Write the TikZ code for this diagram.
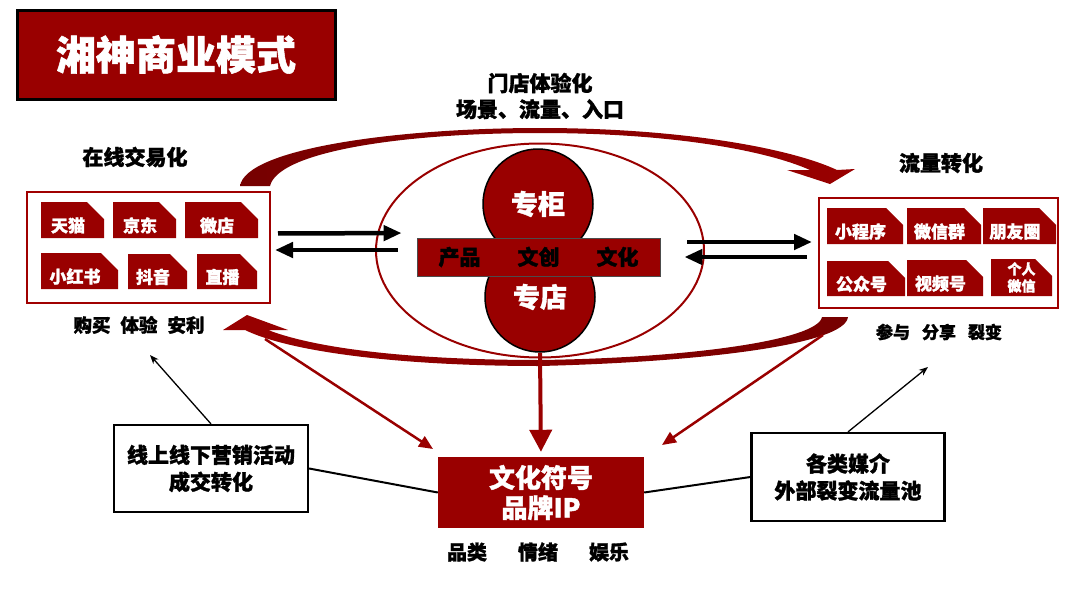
\documentclass[tikz,border=0pt]{standalone}
\usepackage{fontspec}
\setmainfont{Noto Sans CJK SC}[BoldFeatures={FakeBold=1.4}]
\usepackage{tikz}
\usetikzlibrary{arrows.meta}
\usetikzlibrary{shapes.geometric}

\definecolor{ipred}{HTML}{990000}
\definecolor{boxred}{HTML}{A00000}
\definecolor{arcdark}{HTML}{760000}

\begin{document}
\begin{tikzpicture}[x=1pt,y=-1pt,
		lbl/.style={font=\fontsize{21}{26}\selectfont\bfseries,align=center,inner sep=0pt},
		sub/.style={font=\fontsize{18}{22}\selectfont\bfseries,inner sep=0pt},
		redbox/.style={draw=boxred,line width=2pt},
		tagbox/.style={fill=white,inner sep=0pt,text=white,font=\fontsize{17}{20}\selectfont\bfseries,
			path picture={\fill[ipred] (path picture bounding box.north west)
				-- ([xshift=-17pt]path picture bounding box.north east)
				-- ([yshift=-17pt]path picture bounding box.north east)
				-- (path picture bounding box.south east)
				-- (path picture bounding box.south west) -- cycle;}},
		tag/.style={tagbox,text height=26pt,text depth=2pt,execute at end node={\hspace{9pt}}},
		ball/.style={circle,fill=ipred,draw=black,line width=1.5pt,minimum size=110pt,inner sep=0pt,
			text=white,font=\fontsize{27}{30}\selectfont\bfseries},
		wbox/.style={draw=black,line width=2.2pt,fill=white,align=center,
			font=\fontsize{21}{27}\selectfont\bfseries},
		dbl/.style={line width=4.5pt,-{Triangle[length=18pt,width=15pt]}},
		diag/.style={draw=ipred,line width=2.5pt,-{Triangle[length=14pt,width=12pt]}},
		note/.style={line width=1.3pt,-{Stealth[length=9pt,width=7pt]}}]

		\useasboundingbox (0,0) rectangle (1080,608);

		% title
		\node [fill=ipred,draw=black,line width=3pt,minimum width=318pt,minimum height=89pt,
			text=white,font=\fontsize{40}{44}\selectfont\bfseries] (ttl) at (176,54.5) {湘神商业模式};

		% arcs
		\shade [left color=arcdark,right color=ipred] (240,186) .. controls (246,148) and (400,128) .. (540,128)
			.. controls (680,128) and (790,148) .. (837,170) -- (855,169) -- (830,184) -- (787,170) -- (810,170)
			.. controls (765,150) and (670,133) .. (540,133) .. controls (400,133) and (278,152) .. (270,186) -- cycle;
		\shade [left color=ipred,right color=arcdark] (848,317) .. controls (845,345) and (700,362) .. (540,366)
			.. controls (400,366) and (290,352) .. (245,330) -- (223,330) -- (247,315) -- (288,330) -- (268,330)
			.. controls (320,350) and (420,360) .. (540,360) .. controls (690,358) and (818,340) .. (822,317) -- cycle;

		\node [lbl] (mdt) at (540,96) {门店体验化\\场景、流量、入口};
		\node [lbl] (zx) at (135,157) {在线交易化};
		\node [lbl] (lz) at (941,163) {流量转化};

		% online box
		\node [redbox,minimum width=243pt,minimum height=111pt] (onl) at (148.5,247.5) {};
		\node [tag,minimum width=63pt,minimum height=36pt] (tm) at (72.5,220) {天猫};
		\node [tag,minimum width=63pt,minimum height=36pt] (jd) at (144.5,220) {京东};
		\node [tag,minimum width=73pt,minimum height=36pt] (wd) at (221.5,220) {微店};
		\node [tag,minimum width=77pt,minimum height=36pt] (xhs) at (79.5,271) {小红书};
		\node [tag,minimum width=59pt,minimum height=35pt] (dy) at (157.5,271.5) {抖音};
		\node [tag,minimum width=60pt,minimum height=35pt] (zb) at (227,271.5) {直播};
		\node [sub,font=\fontsize{18.5}{22}\selectfont\bfseries] (gm) at (139,325) {购买\hspace{10pt}体验\hspace{10pt}安利};

		% traffic box
		\node [redbox,minimum width=239pt,minimum height=110pt] (flw) at (938.5,253) {};
		\node [tag,minimum width=76pt,minimum height=36pt] (xcx) at (865,226) {小程序};
		\node [tag,minimum width=74pt,minimum height=36pt] (wxq) at (944,226) {微信群};
		\node [tag,minimum width=73pt,minimum height=36pt] (pyq) at (1019.5,226) {朋友圈};
		\node [tag,minimum width=78pt,minimum height=35pt] (gzh) at (866,278.5) {公众号};
		\node [tag,minimum width=76pt,minimum height=36pt] (sph) at (945,278) {视频号};
		\node [tagbox,align=center,minimum width=61pt,minimum height=37pt,
			font=\fontsize{14}{17}\selectfont\bfseries] (grwx) at (1021.5,277.5) {个人\\微信};
		\node [sub,font=\fontsize{17}{20}\selectfont\bfseries] (cy) at (939,332) {参与\hspace{12pt}分享\hspace{12pt}裂变};

		% store
		\node [draw=ipred,line width=2pt,ellipse,minimum width=328pt,minimum height=214pt] (ring) at (540,250.5) {};
		\node [ball] (zg) at (538,204) {专柜};
		\node [ball] (zd) at (540,297) {专店};
		\node [fill=ipred,draw=black!70,line width=0.8pt,minimum width=243pt,minimum height=38pt,inner sep=0pt,
			font=\fontsize{21}{24}\selectfont\bfseries] (band) at (538.5,257) {产品\hspace{37pt}文创\hspace{37pt}文化};

		\draw [dbl,shorten <=7pt,shorten >=15pt] ([yshift=14pt]onl.east) -- ([yshift=24pt]band.west);
		\draw [dbl,shorten <=19pt,shorten >=4pt] ([yshift=7pt]band.west) -- ([yshift=-2.5pt]onl.east);
		\draw [dbl,shorten <=27pt,shorten >=6pt] ([yshift=15pt]band.east) -- ([yshift=11pt]flw.west);
		\draw [dbl,shorten <=11pt,shorten >=24pt] ([yshift=-4pt]flw.west) -- (band.east);

		% brand
		\node [wbox,minimum width=194pt,minimum height=87pt] (mk) at (211,468.5) {线上线下营销活动\\成交转化};
		\node [fill=ipred,text=white,align=center,minimum width=206pt,minimum height=71pt,
			font=\fontsize{26}{30}\selectfont\bfseries] (ip) at (541,492.5) {文化符号\\品牌IP};
		\node [wbox,minimum width=193pt,minimum height=88pt] (md) at (848,477) {各类媒介\\外部裂变流量池};
		\node [sub,font=\fontsize{20}{24}\selectfont\bfseries] (pl) at (538,552) {品类\hspace{31pt}情绪\hspace{31pt}娱乐};

		\draw [draw=ipred,line width=4pt,-{Triangle[length=22pt,width=22pt]},shorten >=5pt] (zd.south) -- (ip.north);

		\coordinate (lfs) at (265,339);
		\coordinate (lfe) at (433,449);
		\coordinate (rts) at (823,335);
		\coordinate (rte) at (662,445);
		\draw [diag] (lfs) -- (lfe);
		\draw [diag] (rts) -- (rte);

		\draw [line width=2pt] (mk.east) -- (ip.west);
		\draw [line width=2pt] (ip.east) -- (md.west);

		\coordinate (mkt) at (150,355);
		\coordinate (mdt) at (928,367);
		\draw [note] (mk.north) -- (mkt);
		\draw [note] (md.north) -- (mdt);
	\end{tikzpicture}
\end{document}
